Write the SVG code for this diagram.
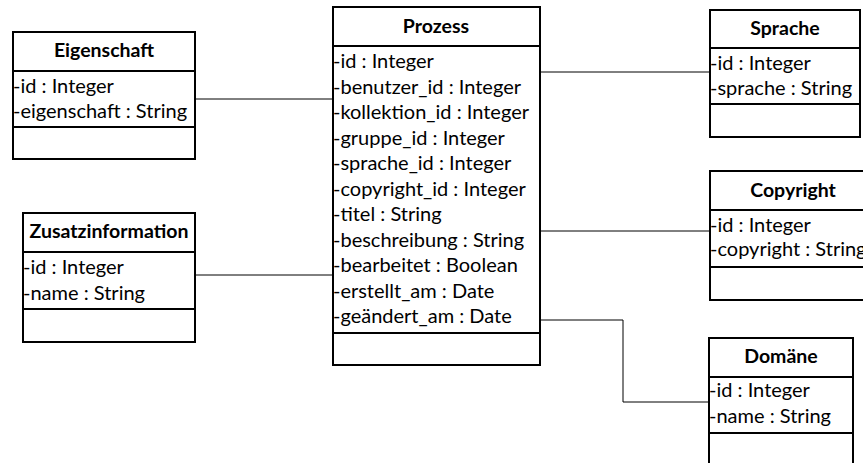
<svg xmlns="http://www.w3.org/2000/svg" width="863" height="463" viewBox="0 0 863 463">
  <style>
    .box { fill: #ffffff; stroke: #000000; stroke-width: 2; }
    .div { stroke: #000000; stroke-width: 2; }
    .link { fill: none; stroke: #000000; stroke-width: 1; }
    .title { font-family: Lato, "Liberation Sans", sans-serif; font-size: 19.5px; font-weight: bold; text-anchor: middle; fill: #000000; }
    .attr { font-family: Lato, "Liberation Sans", sans-serif; font-size: 20px; fill: #000000; }
  </style>
  <rect width="863" height="463" fill="#ffffff"/>

  <!-- associations -->
  <g id="connectors">
    <polyline class="link" points="195,99 333,99"/>
    <polyline class="link" points="195,275 333,275"/>
    <polyline class="link" points="540,72 710,72"/>
    <polyline class="link" points="540,231 710,231"/>
    <polyline class="link" points="540,320 623,320 623,402 709,402"/>
  </g>

  <g id="eigenschaft">
    <rect class="box" x="13" y="32" width="182" height="127"/>
    <line class="div" x1="13" y1="71" x2="195" y2="71"/>
    <line class="div" x1="13" y1="127" x2="195" y2="127"/>
    <text class="title" x="104" y="57">Eigenschaft</text>
    <text class="attr" x="13" y="92.5">-id : Integer</text>
    <text class="attr" x="13" y="118">-eigenschaft : String</text>
  </g>

  <g id="zusatzinformation">
    <rect class="box" x="23" y="213" width="172" height="129"/>
    <line class="div" x1="23" y1="252" x2="195" y2="252"/>
    <line class="div" x1="23" y1="309" x2="195" y2="309"/>
    <text class="title" x="109" y="238">Zusatzinformation</text>
    <text class="attr" x="23" y="274">-id : Integer</text>
    <text class="attr" x="23" y="299.5">-name : String</text>
  </g>

  <g id="prozess">
    <rect class="box" x="333" y="7" width="207" height="358"/>
    <line class="div" x1="333" y1="46" x2="540" y2="46"/>
    <line class="div" x1="333" y1="333" x2="540" y2="333"/>
    <text class="title" x="436" y="33">Prozess</text>
    <text class="attr" x="333" y="68">-id : Integer</text>
    <text class="attr" x="333" y="93.5">-benutzer_id : Integer</text>
    <text class="attr" x="333" y="119">-kollektion_id : Integer</text>
    <text class="attr" x="333" y="144.5">-gruppe_id : Integer</text>
    <text class="attr" x="333" y="170">-sprache_id : Integer</text>
    <text class="attr" x="333" y="195.5">-copyright_id : Integer</text>
    <text class="attr" x="333" y="221">-titel : String</text>
    <text class="attr" x="333" y="246.5">-beschreibung : String</text>
    <text class="attr" x="333" y="272">-bearbeitet : Boolean</text>
    <text class="attr" x="333" y="297.5">-erstellt_am : Date</text>
    <text class="attr" x="333" y="323">-geändert_am : Date</text>
  </g>

  <g id="sprache">
    <rect class="box" x="710" y="10" width="150" height="127"/>
    <line class="div" x1="710" y1="48" x2="860" y2="48"/>
    <line class="div" x1="710" y1="104" x2="860" y2="104"/>
    <text class="title" x="785" y="35">Sprache</text>
    <text class="attr" x="710" y="70">-id : Integer</text>
    <text class="attr" x="710" y="95">-sprache : String</text>
  </g>

  <g id="copyright">
    <rect class="box" x="710" y="171" width="166" height="129"/>
    <line class="div" x1="710" y1="210" x2="876" y2="210"/>
    <line class="div" x1="710" y1="267" x2="876" y2="267"/>
    <text class="title" x="793" y="197">Copyright</text>
    <text class="attr" x="710" y="232">-id : Integer</text>
    <text class="attr" x="710" y="256">-copyright : String</text>
  </g>

  <g id="domaene">
    <rect class="box" x="709" y="338" width="144" height="135"/>
    <line class="div" x1="709" y1="377" x2="853" y2="377"/>
    <line class="div" x1="709" y1="433" x2="853" y2="433"/>
    <text class="title" x="781" y="363">Domäne</text>
    <text class="attr" x="709" y="397">-id : Integer</text>
    <text class="attr" x="709" y="423">-name : String</text>
  </g>
</svg>
